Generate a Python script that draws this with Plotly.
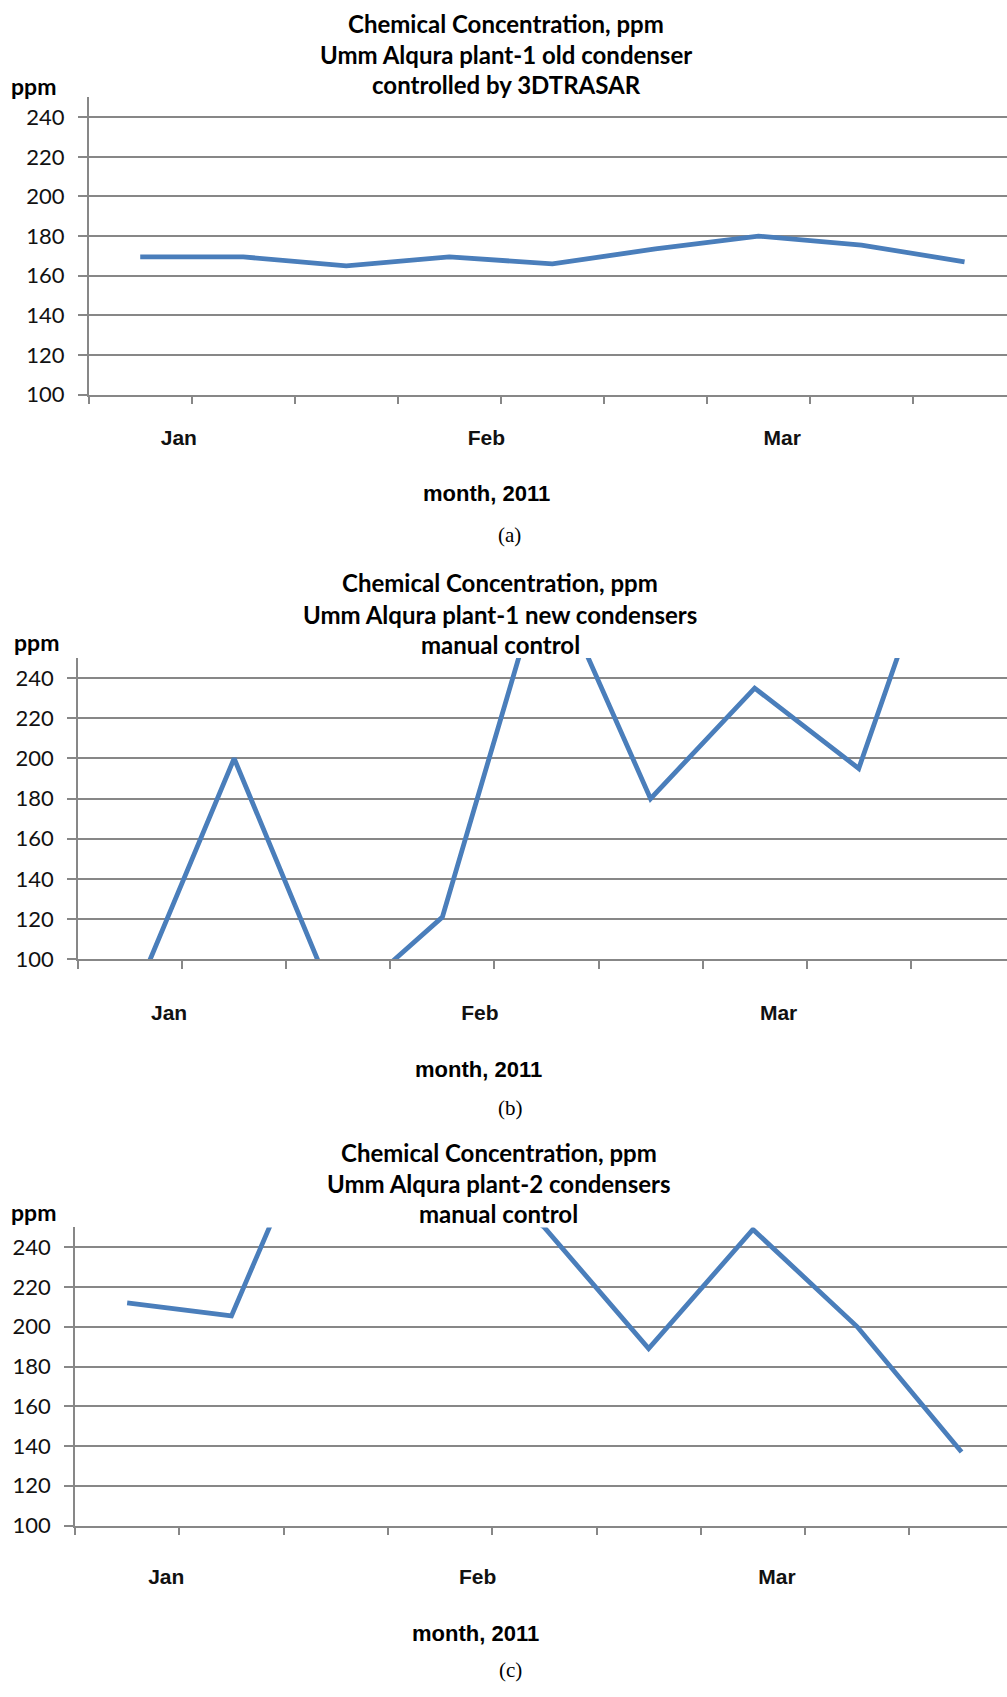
import plotly.graph_objects as go

# ---------------- data ----------------
categories = [1, 2, 3, 4, 5, 6, 7, 8, 9]          # sampling points (Jan - Mar 2011)
ppm_a = [169.5, 169.5, 165, 169.5, 166, 173.5, 180, 175.5, 167]
ppm_b = [76, 200, 75, 121, 297, 180, 235, 195, 344]
ppm_c = [212, 205.5, 328, 290, 250, 189, 249, 200, 137]
month_labels = ["Jan", "Feb", "Mar"]
month_pos = [1.375, 4.36, 7.23]
y_ticks = [100, 120, 140, 160, 180, 200, 220, 240]
y_range = [100, 250]
titles_a = ["Chemical Concentration, ppm", "Umm Alqura plant-1 old condenser", "controlled by 3DTRASAR"]
titles_b = ["Chemical Concentration, ppm", "Umm Alqura plant-1 new condensers", "manual control"]
titles_c = ["Chemical Concentration, ppm", "Umm Alqura plant-2 condensers", "manual control"]
y_title = "ppm"
x_title = "month, 2011"
captions = ["(a)", "(b)", "(c)"]

# ---------------- layout geometry (pixels) ----------------
W, H = 1007, 1697
GRAY = "#878787"
BLUE = "#4a7ebb"

panels = [
    dict(series=ppm_a, titles=titles_a, caption=captions[0], left=88.7, top=98.1, bottom=397.7, step=103.04,
         title_y=[23.5, 54.5, 85.0], title_x=506, ppm_xy=(33, 87), xt_xy=(486, 497), cap_xy=(510, 539), lab_off=36),
    dict(series=ppm_b, titles=titles_b, caption=captions[1], left=78.0, top=663.1, bottom=966.7, step=104.1,
         title_y=[586.7, 619.3, 649.3], title_x=500, ppm_xy=(36, 647), xt_xy=(478, 1078), cap_xy=(510.5, 1117), lab_off=47),
    dict(series=ppm_c, titles=titles_c, caption=captions[2], left=75.0, top=1236.9, bottom=1537.3, step=104.3,
         title_y=[1161.7, 1192.7, 1223.3], title_x=498.5, ppm_xy=(33, 1221), xt_xy=(475, 1646), cap_xy=(510.5, 1683), lab_off=45),
]


def px(x):
    return x / W


def py(y):
    return 1 - y / H


fig = go.Figure()
annotations = []
boundaries = [c - 0.5 for c in categories] + [categories[-1] + 0.5]

for i, p in enumerate(panels, start=1):
    xa = "x" if i == 1 else f"x{i}"
    ya = "y" if i == 1 else f"y{i}"
    fig.add_trace(go.Scatter(
        x=categories, y=p["series"], mode="lines",
        line=dict(color=BLUE, width=4.8), xaxis=xa, yaxis=ya,
        showlegend=False, hoverinfo="skip",
    ))
    xmax = 0.5 + (W - p["left"]) / p["step"]
    xkey = "xaxis" if i == 1 else f"xaxis{i}"
    ykey = "yaxis" if i == 1 else f"yaxis{i}"
    fig.update_layout(**{
        xkey: dict(
            domain=[px(p["left"]), 1], range=[0.5, xmax], anchor=ya,
            tickmode="array", tickvals=month_pos, ticktext=month_labels,
            ticks="outside", ticklen=p["lab_off"] - 13, tickcolor="rgba(0,0,0,0)",
            tickfont=dict(family="Liberation Sans, Arial, sans-serif", size=21, color="#111111", weight="bold"),
            showline=True, linecolor=GRAY, linewidth=1.5, showgrid=False, zeroline=False,
            minor=dict(tickmode="array", tickvals=boundaries, ticks="outside", ticklen=8,
                       tickcolor=GRAY, tickwidth=1.5, showgrid=False),
            fixedrange=True,
        ),
        ykey: dict(
            domain=[py(p["bottom"]), py(p["top"])], range=y_range, anchor=xa,
            tickmode="array", tickvals=y_ticks,
            ticks="outside", ticklen=9, tickcolor=GRAY, tickwidth=1.5,
            ticklabelstandoff=9,
            tickfont=dict(family="Lato, sans-serif", size=22, color="#111111"),
            showline=True, linecolor=GRAY, linewidth=1.5,
            showgrid=True, gridcolor=GRAY, gridwidth=1.5, zeroline=False,
            fixedrange=True,
        ),
    })
    for line, ty in zip(p["titles"], p["title_y"]):
        annotations.append(dict(
            text=line, x=px(p["title_x"]), y=py(ty), xref="paper", yref="paper",
            xanchor="center", yanchor="middle", showarrow=False,
            font=dict(family="Lato, sans-serif", size=24, color="#000000", weight="bold"),
        ))
    annotations.append(dict(
        text=y_title, x=px(p["ppm_xy"][0]), y=py(p["ppm_xy"][1]), xref="paper", yref="paper",
        xanchor="center", yanchor="middle", showarrow=False,
        font=dict(family="Lato, sans-serif", size=23, color="#000000", weight="bold"),
    ))
    annotations.append(dict(
        text=x_title, x=px(p["xt_xy"][0]), y=py(p["xt_xy"][1]), xref="paper", yref="paper",
        xanchor="center", yanchor="middle", showarrow=False,
        font=dict(family="Liberation Sans, Arial, sans-serif", size=22, color="#000000", weight="bold"),
    ))
    annotations.append(dict(
        text=p["caption"], x=px(p["cap_xy"][0]), y=py(p["cap_xy"][1]), xref="paper", yref="paper",
        xanchor="center", yanchor="middle", showarrow=False,
        font=dict(family="Liberation Serif, Times New Roman, serif", size=21, color="#000000"),
    ))

fig.update_layout(
    width=W, height=H, margin=dict(l=0, r=0, t=0, b=0),
    paper_bgcolor="white", plot_bgcolor="white",
    annotations=annotations, showlegend=False,
)

fig.write_html(
    "out.html",
    config={"displayModeBar": False},
    post_script="document.body.style.margin='0';document.body.style.overflow='hidden';",
)
